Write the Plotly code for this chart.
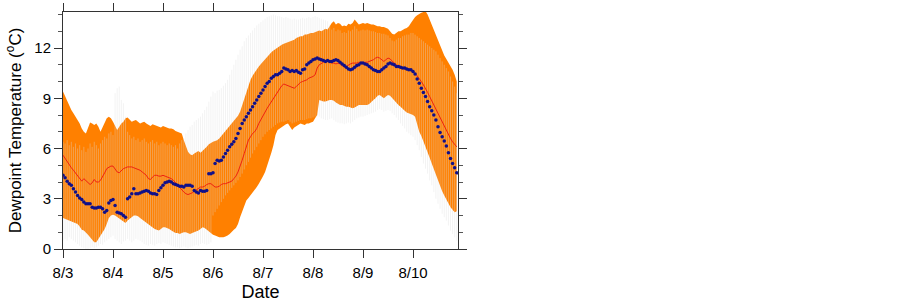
import plotly.graph_objects as go

# hourly values, 8/3 00:00 -> 8/10 21:00
obs = [4.4, 4.25, 4.05, 3.9, 3.8, 3.6, 3.4, 3.2, 3.05, 2.95, 2.8, 2.7, 2.7, 2.7, 2.5, 2.45, 2.45, 2.5, 2.5, 2.4, 2.2, 2.3, 2.75, 2.9, 2.95,
       2.6, 2.2, 2.15, 2.1, 2.0, 1.9, 3.0, 3.1, 3.3, 3.6, 3.3, 3.3, 3.35, 3.4, 3.45, 3.5, 3.45, 3.35, 3.3, 3.3, 3.25, 3.5, 3.65, 3.8,
       3.95, 4.0, 4.05, 4.0, 3.9, 3.85, 3.8, 3.75, 3.75, 3.7, 3.8, 3.8, 3.8, 3.75, 3.5, 3.4, 3.35, 3.5, 3.45, 3.45, 3.5, 4.5, 4.5, 4.55,
       5.1, 5.3, 5.25, 5.3, 5.5, 5.7, 5.9, 6.1, 6.25, 6.4, 6.6, 6.9, 7.2, 7.5, 7.7, 7.9, 8.1, 8.3, 8.5, 8.7, 8.9, 9.1, 9.3, 9.5,
       9.7, 9.9, 10.0, 10.2, 10.3, 10.4, 10.4, 10.5, 10.6, 10.8, 10.75, 10.7, 10.6, 10.65, 10.6, 10.65, 10.55, 10.5, 10.7, 10.75, 11.0, 11.1, 11.2, 11.3,
       11.35, 11.4, 11.35, 11.3, 11.25, 11.2, 11.25, 11.2, 11.2, 11.25, 11.3, 11.25, 11.15, 11.05, 10.95, 10.85, 10.75, 10.7, 10.75, 10.85, 10.95, 11.0, 11.1, 11.1,
       11.05, 11.0, 10.9, 10.8, 10.7, 10.65, 10.6, 10.6, 10.7, 10.8, 10.9, 11.05, 11.1, 11.05, 11.0, 10.9, 10.9, 10.85, 10.8, 10.8, 10.75, 10.7, 10.7, 10.6,
       10.45, 10.15, 9.9, 9.6, 9.35, 9.1, 8.8, 8.5, 8.25, 8.0, 7.7, 7.3, 6.95, 6.7, 6.45, 6.15, 5.75, 5.4, 5.1, 4.85, 4.55]

ens_mean = [5.6, 5.4, 5.2, 5.0, 4.85, 4.7, 4.55, 4.4, 4.25, 4.05, 4.2, 4.1, 4.0, 3.85, 3.95, 4.15, 4.0, 4.0, 4.1, 4.3, 4.55, 4.8, 4.9, 4.95, 4.95,
            4.8, 4.6, 4.55, 4.7, 4.8, 4.85, 4.9, 4.9, 4.9, 4.85, 4.8, 4.75, 4.7, 4.6, 4.5, 4.4, 4.2, 4.15, 4.3, 4.4, 4.4, 4.35, 4.35, 4.4,
            4.35, 4.3, 4.25, 4.2, 4.1, 3.95, 3.85, 3.7, 3.55, 3.4, 3.3, 3.25, 3.3, 3.35, 3.45, 3.55, 3.65, 3.7, 3.7, 3.75, 3.85, 3.9, 3.9, 3.8,
            3.7, 3.7, 3.75, 3.85, 3.9, 3.9, 3.95, 4.0, 4.05, 4.2, 4.35, 4.6, 4.9, 5.3, 5.7, 6.1, 6.5, 6.7, 6.9, 7.0, 7.2, 7.5, 7.75, 7.95,
            8.15, 8.4, 8.6, 8.8, 9.0, 9.2, 9.4, 9.6, 9.75, 9.85, 9.8, 9.75, 9.7, 9.65, 9.6, 9.7, 9.85, 9.95, 10.0, 10.05, 10.1, 10.2, 10.25, 10.3,
            10.4, 10.8, 11.0, 11.1, 11.15, 11.2, 11.2, 11.15, 11.1, 11.1, 11.05, 11.1, 11.05, 10.95, 10.85, 10.9, 11.0, 11.05, 11.1, 11.1, 11.1, 11.15, 11.1, 11.1,
            11.15, 11.15, 11.2, 11.25, 11.3, 11.4, 11.45, 11.4, 11.3, 11.2, 11.3, 11.4, 11.35, 11.2, 11.1, 11.0, 10.9, 10.85, 10.8, 10.75, 10.7, 10.7, 10.65, 10.6,
            10.5, 10.35, 10.2, 10.0, 9.8, 9.6, 9.35, 9.1, 8.85, 8.6, 8.35, 8.05, 7.8, 7.55, 7.3, 7.1, 6.85, 6.6, 6.4, 6.25, 6.1]

band_upper = [9.4, 9.1, 8.8, 8.5, 8.3, 8.1, 7.9, 7.75, 7.5, 7.2, 7.0, 6.9, 7.3, 7.55, 7.5, 7.4, 7.5, 7.3, 7.0, 7.3, 7.6, 7.8, 7.9, 7.8, 7.6,
              7.3, 7.1, 7.3, 7.5, 7.6, 7.8, 7.85, 7.7, 7.6, 7.65, 7.7, 7.6, 7.5, 7.55, 7.6, 7.5, 7.4, 7.35, 7.45, 7.4, 7.35, 7.3, 7.25, 7.35,
              7.3, 7.25, 7.2, 7.2, 7.15, 7.05, 7.0, 6.95, 6.9, 6.5, 6.1, 5.8, 5.65, 5.6, 5.7, 5.8, 5.85, 5.75, 5.85, 5.95, 6.1, 6.25, 6.35, 6.4,
              6.45, 6.5, 6.6, 6.75, 6.85, 7.0, 7.2, 7.35, 7.5, 7.65, 7.8, 7.95, 8.2, 8.6, 9.0, 9.4, 9.8, 10.1, 10.35, 10.55, 10.75, 10.9, 11.05, 11.2,
              11.35, 11.5, 11.6, 11.75, 11.85, 11.95, 12.05, 12.1, 12.2, 12.25, 12.3, 12.35, 12.4, 12.45, 12.5, 12.6, 12.65, 12.7, 12.7, 12.8, 12.8, 12.85, 12.9, 12.9,
              12.95, 13.0, 13.05, 13.0, 13.1, 13.15, 13.1, 13.3, 13.5, 13.6, 13.4, 13.5, 13.45, 13.3, 13.35, 13.3, 13.45, 13.4, 13.5, 13.7, 13.55, 13.4, 13.45, 13.5,
              13.45, 13.5, 13.45, 13.4, 13.4, 13.35, 13.3, 13.3, 13.25, 13.25, 13.2, 13.15, 13.0, 12.85, 12.8, 12.9, 13.0, 13.0, 13.1, 13.15, 13.2, 13.3, 13.5, 13.7,
              13.85, 13.95, 14.05, 14.1, 14.15, 14.2, 14.0, 13.7, 13.4, 13.1, 12.8, 12.45, 12.1, 11.8, 11.55, 11.35, 11.15, 10.95, 10.7, 10.4, 10.0]

band_lower = [1.85, 1.8, 1.75, 1.7, 1.65, 1.6, 1.55, 1.5, 1.35, 1.15, 1.1, 1.0, 0.85, 0.7, 0.55, 0.4, 0.4, 0.6, 0.85, 1.0, 1.2, 1.5, 1.85, 2.0, 2.05,
              2.0, 1.9, 1.85, 1.75, 1.6, 1.55, 1.7, 1.8, 1.9, 2.0, 2.0, 1.95, 1.85, 1.75, 1.65, 1.55, 1.45, 1.35, 1.25, 1.2, 1.15, 1.1, 1.2, 1.3,
              1.3, 1.25, 1.2, 1.1, 1.0, 0.95, 0.95, 0.9, 0.95, 1.0, 1.0, 0.95, 0.9, 0.95, 1.0, 1.05, 1.1, 1.2, 1.3, 1.25, 1.15, 1.0, 0.9, 0.85,
              0.8, 0.75, 0.7, 0.7, 0.7, 0.75, 0.8, 0.9, 1.05, 1.15, 1.25, 1.5, 1.9, 2.2, 2.6, 2.9, 3.05, 3.2, 3.35, 3.55, 3.7, 3.9, 4.1, 4.35,
              4.6, 4.95, 5.3, 5.75, 6.2, 6.8, 7.1, 7.2, 7.3, 7.4, 7.45, 7.5, 7.3, 7.1, 7.25, 7.35, 7.45, 7.5, 7.45, 7.4, 7.5, 7.5, 7.55, 7.6,
              7.8, 8.0, 8.9, 8.85, 8.8, 8.8, 8.85, 8.9, 8.9, 8.85, 8.75, 8.65, 8.6, 8.6, 8.55, 8.5, 8.5, 8.45, 8.4, 8.45, 8.55, 8.6, 8.6, 8.6,
              8.6, 8.6, 8.65, 8.8, 8.9, 9.0, 9.15, 9.2, 9.1, 9.0, 9.1, 9.2, 9.15, 9.0, 8.9, 8.75, 8.6, 8.5, 8.35, 8.25, 8.15, 8.1, 8.05, 8.0,
              7.9, 7.4, 7.0, 6.75, 6.45, 6.15, 5.8, 5.45, 5.1, 4.75, 4.4, 4.05, 3.7, 3.45, 3.2, 2.95, 2.7, 2.5, 2.35, 2.2, 2.25]

ens_max = [6.4, 6.3, 6.5, 6.2, 6.4, 6.1, 6.3, 6.0, 6.2, 5.9, 6.1, 5.8, 6.0, 6.3, 6.1, 6.4, 6.2, 6.0, 6.3, 6.5, 6.7, 6.6, 6.9, 7.0, 6.8,
           9.3, 9.6, 9.7, 8.9, 8.7, 7.9, 7.0, 6.8, 6.6, 6.7, 6.5, 6.6, 6.4, 6.5, 6.6, 6.4, 6.3, 6.4, 6.5, 6.3, 6.4, 6.2, 6.3, 6.4,
           6.3, 6.2, 6.3, 6.2, 6.1, 6.2, 6.0, 6.3, 6.5, 6.6, 6.9, 7.1, 7.3, 7.4, 7.6, 7.7, 7.8, 7.9, 8.1, 8.3, 8.5, 8.8, 9.1, 9.4,
           9.3, 9.45, 9.5, 9.6, 9.75, 9.9, 10.1, 10.4, 10.7, 11.0, 11.3, 11.6, 11.9, 12.1, 12.4, 12.6, 12.75, 12.9, 13.05, 13.2, 13.35, 13.45, 13.55, 13.65,
           13.75, 13.85, 13.9, 13.95, 14.0, 13.95, 13.9, 13.9, 13.85, 13.8, 13.85, 13.8, 13.75, 13.7, 13.75, 13.7, 13.7, 13.75, 13.8, 13.75, 13.8, 13.85, 13.8, 13.85,
           13.9, 13.85, 13.8, 13.75, 13.7, 13.65, 13.6, 13.4, 13.1, 13.2, 13.0, 13.1, 13.05, 12.9, 12.95, 12.9, 13.05, 13.0, 13.1, 13.3, 13.15, 13.0, 13.05, 13.1,
           13.05, 13.1, 13.05, 13.0, 13.0, 12.95, 12.9, 12.9, 12.85, 12.85, 12.8, 12.75, 12.6, 12.45, 12.4, 12.5, 12.6, 12.6, 12.7, 12.75, 12.8, 12.8, 12.9, 12.9,
           12.8, 12.7, 12.6, 12.5, 12.4, 12.3, 12.2, 12.1, 12.0, 11.9, 11.8, 11.6, 11.4, 11.2, 11.0, 10.8, 10.6, 10.3, 10.0, 9.7, 9.3]

ens_min = [0.5, 0.6, 0.5, 0.7, 0.6, 0.5, 0.4, 0.3, 0.2, 0.1, 0.05, 0.0, 0.0, 0.05, 0.1, 0.05, 0.1, 0.2, 0.3, 0.25, 0.4, 0.5, 0.6, 0.7, 0.8,
           0.6, 0.5, 0.4, 0.3, 0.45, 0.5, 0.6, 0.5, 0.4, 0.5, 0.6, 0.55, 0.5, 0.4, 0.3, 0.25, 0.2, 0.3, 0.25, 0.2, 0.3, 0.35, 0.3, 0.4,
           0.35, 0.3, 0.25, 0.2, 0.15, 0.1, 0.1, 0.05, 0.1, 0.15, 0.1, 0.05, 0.1, 0.15, 0.2, 0.25, 0.2, 0.3, 0.35, 0.3, 0.25, 0.3, 0.4, 2.0,
           2.2, 2.4, 2.6, 2.8, 3.0, 3.2, 3.35, 3.5, 3.65, 3.8, 3.95, 4.1, 4.3, 4.5, 4.75, 5.0, 5.2, 5.45, 5.7, 5.9, 6.1, 6.3, 6.5, 6.7,
           6.85, 7.0, 7.1, 7.2, 7.3, 7.4, 7.5, 7.55, 7.6, 7.6, 7.65, 7.7, 7.6, 7.5, 7.55, 7.6, 7.65, 7.7, 7.7, 7.7, 7.75, 7.8, 7.8, 7.85,
           7.9, 7.95, 7.9, 7.8, 7.75, 7.7, 7.7, 7.75, 7.8, 7.7, 7.6, 7.55, 7.5, 7.5, 7.45, 7.5, 7.55, 7.5, 7.6, 7.7, 7.8, 7.85, 7.9, 7.9,
           7.95, 8.0, 8.05, 8.1, 8.15, 8.2, 8.3, 8.35, 8.3, 8.2, 8.25, 8.3, 8.25, 8.1, 8.0, 7.85, 7.7, 7.5, 7.35, 7.2, 7.0, 6.9, 6.8, 6.7,
           6.5, 6.2, 5.9, 5.5, 5.1, 4.8, 4.5, 4.1, 3.8, 3.4, 3.0, 2.7, 2.4, 2.1, 1.9, 1.7, 1.4, 1.1, 0.9, 0.7, 0.5]

tick_hours = [0, 24, 48, 72, 96, 120, 144, 168]
tick_labels = ["8/3", "8/4", "8/5", "8/6", "8/7", "8/8", "8/9", "8/10"]
y_ticks = [0, 3, 6, 9, 12]

def hrs(arr):
    return list(range(len(arr)))

# ensemble spread as thin vertical segments
n = min(len(ens_min), len(ens_max))
gx, gy = [], []
for h in range(n):
    gx += [h, h, None]
    gy += [ens_min[h], ens_max[h], None]

fig = go.Figure()
fig.add_trace(go.Scatter(x=hrs(band_lower), y=band_lower, mode="lines",
                         line=dict(width=0, color="#ff8000"), showlegend=False, hoverinfo="skip"))
fig.add_trace(go.Scatter(x=hrs(band_upper), y=band_upper, mode="lines", fill="tonexty",
                         fillcolor="#ff8000", line=dict(width=0, color="#ff8000"),
                         showlegend=False, hoverinfo="skip"))
fig.add_trace(go.Scatter(x=gx, y=gy, mode="lines",
                         line=dict(width=0.8, color="rgba(220,220,220,0.45)"),
                         showlegend=False, hoverinfo="skip"))
fig.add_trace(go.Scatter(x=hrs(ens_mean), y=ens_mean, mode="lines",
                         line=dict(width=1, color="#ee2211"), showlegend=False))
fig.add_trace(go.Scatter(x=hrs(obs), y=obs, mode="markers",
                         marker=dict(size=3.5, color="#10108a", line=dict(width=0)),
                         showlegend=False))

font_family = "Liberation Sans, Arial, Helvetica, sans-serif"
fig.update_layout(
    width=902, height=302,
    margin=dict(l=63, r=444, t=12, b=53),
    paper_bgcolor="white", plot_bgcolor="white",
    font=dict(family=font_family, size=15, color="black"),
)
fig.update_xaxes(
    range=[0, 189.6], tickvals=tick_hours, ticktext=tick_labels, automargin=False,
    showgrid=False, zeroline=False, showline=True, linecolor="#333", linewidth=1,
    mirror="ticks", ticks="outside", ticklen=8, tickcolor="#333", tickwidth=1,
    tickfont=dict(size=15), ticklabelstandoff=2,
    title=dict(text="Date", font=dict(size=18), standoff=10),
)
fig.update_yaxes(
    range=[0, 14.15], tickvals=y_ticks, automargin=False,
    showgrid=False, zeroline=False, showline=True, linecolor="#333", linewidth=1,
    mirror="ticks", ticks="outside", ticklen=8, tickcolor="#333", tickwidth=1,
    minor=dict(dtick=1, ticks="outside", ticklen=4, tickcolor="#555", showgrid=False),
    tickfont=dict(size=15),
    title=dict(text="Dewpoint Temperature (<sup>o</sup>C)", font=dict(size=17), standoff=8),
)
fig.write_html("out.html", config={"displayModeBar": False},
               post_script="document.body.style.margin='0px';document.body.style.overflow='hidden';")
